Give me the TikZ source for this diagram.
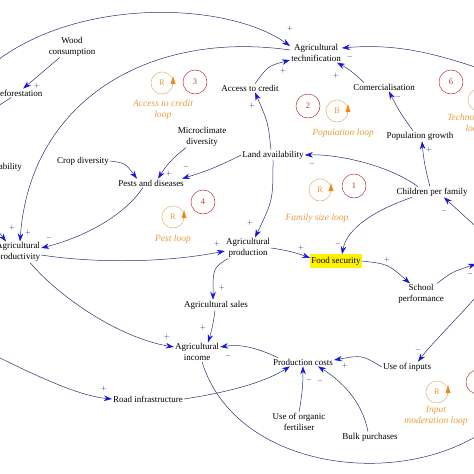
\documentclass[tikz,border=0pt]{standalone}
\usepackage{fontspec}
\setmainfont{Liberation Serif}
\usetikzlibrary{arrows.meta}
\definecolor{linkcol}{RGB}{45,45,115}
\definecolor{arrowblue}{RGB}{20,20,225}
\definecolor{loopor}{RGB}{232,158,62}
\definecolor{loopring}{RGB}{222,178,112}
\definecolor{looptip}{RGB}{240,135,25}
\definecolor{loopred}{RGB}{185,55,55}

\begin{document}
\begin{tikzpicture}[x=1pt, y=-1pt, >={Stealth[length=8pt,width=5.5pt,color=arrowblue]},
    var/.style={font=\fontsize{9}{10.5}\selectfont, inner sep=1pt, align=center},
    link/.style={draw=linkcol, line width=0.5pt, ->},
    plain/.style={draw=linkcol, line width=0.5pt},
    sign/.style={font=\fontsize{7.5}{8}\selectfont, text=linkcol, inner sep=0pt},
    looplbl/.style={font=\fontsize{9.5}{11}\selectfont\itshape, text=loopor, align=center, inner sep=0pt},
    ringor/.style={draw=loopring, line width=0.5pt},
    ringred/.style={draw=loopred, line width=0.5pt}]
    \useasboundingbox (0,0) rectangle (474,474);
    \clip (0,0) rectangle (474,474);

    % Variables
    \node[var] (wood) at (72,47) {Wood\\consumption};
    \node[var] (defor) at (18,93) {Deforestation};
    \node[var, anchor=east] (abil) at (23,167) {ability};
    \node[var] (prodty) at (18,252) {Agricultural\\productivity};
    \node[var] (techn) at (316,53) {Agricultural\\technification};
    \node[var] (credit) at (250,88) {Access to credit};
    \node[var] (comer) at (384,87) {Comercialisation};
    \node[var] (popg) at (420,136) {Population growth};
    \node[var] (micro) at (202,137) {Microclimate\\diversity};
    \node[var] (crop) at (83,161) {Crop diversity};
    \node[var] (pests) at (151,183) {Pests and diseases};
    \node[var] (land) at (273,155) {Land availability};
    \node[var] (child) at (432,192) {Children per family};
    \node[var] (prodn) at (248,248) {Agricultural\\production};
    \node[var, fill=yellow, inner ysep=2.5pt] (food) at (336,261) {Food security};
    \node[var] (school) at (421,294) {School\\performance};
    \node[var] (sales) at (216,305) {Agricultural sales};
    \node[var] (income) at (197,352) {Agricultural\\income};
    \node[var] (costs) at (303,362) {Production costs};
    \node[var] (inputs) at (407,367) {Use of inputs};
    \node[var] (road) at (148,399) {Road infrastructure};
    \node[var] (organic) at (299,422) {Use of organic\\fertiliser};
    \node[var] (bulk) at (370,437) {Bulk purchases};

    % Ends outside the frame
    \coordinate (wleft) at (-12,68);
    \coordinate (dleft) at (-8,110);
    \coordinate (pleft) at (-10,220);
    \coordinate (tright) at (490,72);
    \coordinate (schoolout) at (476,264);
    \coordinate (cright) at (482,232);
    \coordinate (uright) at (482,290);
    \coordinate (iright) at (486,430);
    \coordinate (rleft) at (-10,353);

    % Connectors
    \draw[link] (wleft) .. controls (70,-3) and (225,0) .. ([yshift=7pt]techn.west);
    \draw[link] ([yshift=3pt]techn.west) .. controls (150,30) and (30,100) .. ([xshift=2pt]prodty.north);
    \draw[link] (wood) -- (defor);
    \draw[plain] (defor) -- (dleft);
    \draw[link] (pleft) -- ([xshift=-12pt]prodty.north);
    \draw[link] (crop.east) .. controls (125,163) .. ([xshift=-14pt]pests.north);
    \draw[link] (micro) to[bend right=10] ([xshift=7pt]pests.north);
    \draw[link] (land.west) to[bend left=5] ([xshift=31pt]pests.north);
    \draw[link] ([xshift=-8pt]pests.south) .. controls (125,215) and (85,237) .. ([yshift=4pt]prodty.east);
    \draw[link] ([yshift=-3pt]prodty.east) .. controls (100,264) and (170,262) .. ([yshift=-3pt]prodn.west);
    \draw[link] ([xshift=12pt]prodty.south) .. controls (60,298) and (120,338) .. ([yshift=5pt]income.west);
    \draw[link] (land.south) .. controls (273,200) .. ([xshift=7pt]prodn.north);
    \draw[link] ([xshift=-2pt]land.north) .. controls (268,122) .. ([xshift=5pt]credit.south);
    \draw[link] ([xshift=5pt]credit.north) .. controls (268,66) .. ([yshift=-7pt]techn.west);
    \draw[link] ([xshift=-20pt]comer.north) to[bend right=8] ([xshift=21pt]techn.south);
    \draw[link] (tright) .. controls (440,55) and (400,43) .. ([yshift=5pt]techn.east);
    \draw[link] ([xshift=-7pt]popg.north) to[bend left=5] ([xshift=5pt]comer.south);
    \draw[link] ([xshift=-2pt]child.north) to[bend left=5] ([xshift=2pt]popg.south);
    \draw[link] ([xshift=-14pt]child.north) .. controls (390,166) and (340,154) .. (land.east);
    \draw[link] ([xshift=-20pt]child.south) .. controls (375,210) and (347,228) .. ([xshift=6pt]food.north);
    \draw[link] (prodn.east) to[bend left=6] ([yshift=3pt]food.west);
    \draw[link] (food.east) .. controls (388,264) .. ([xshift=-11pt]school.north);
    \draw[link] ([xshift=16pt]school.north) .. controls (452,272) .. (schoolout);
    \draw[link] (cright) .. controls (462,214) .. ([xshift=12pt]child.south);
    \draw[link] (uright) .. controls (458,318) and (432,343) .. ([xshift=11pt]inputs.north);
    \draw[link] (inputs.west) .. controls (362,355) .. ([yshift=2pt]costs.east);
    \draw[link] (organic.north) to[bend right=5] (costs.south);
    \draw[link] ([xshift=-2pt]bulk.north) .. controls (362,400) and (340,380) .. ([xshift=15pt]costs.south);
    \draw[link] (road.east) .. controls (230,392) and (265,382) .. ([xshift=-13pt]costs.south);
    \draw[link] ([xshift=-25pt]costs.north) .. controls (255,347) and (240,344) .. ([yshift=5pt]income.east);
    \draw[link] ([xshift=-1pt]sales.south) to[bend left=5] ([xshift=11pt]income.north);
    \draw[link] ([xshift=-20pt]prodn.south) .. controls (213,268) .. ([xshift=-3pt]sales.north);
    \draw[plain] ([xshift=5pt]income.south) .. controls (235,470) and (400,490) .. (iright);
    \draw[link] (rleft) .. controls (40,378) and (80,396) .. (road.west);

    % Polarities
    \foreach \n/\x/\y/\s in {1/37/86/+, 2/12/228/+, 3/28/233/+, 4/290/29/+, 5/169/174/+,
        6/186/167/-, 7/49/238/-, 8/217/244/+, 9/167/337/+, 10/250/223/+, 11/252/106/+,
        12/283/71/+, 13/336/76/+, 14/350/57/-, 15/398/97/-, 16/429/150/+, 17/312/164/-,
        18/338/244/-, 19/301/248/+, 20/387/260/+, 21/470/274/-, 22/444/211/-, 23/418/350/-,
        24/345/366/+, 25/309/380/-, 26/320/381/-, 27/228/356/-, 28/203/328/+, 29/222/288/+,
        30/104/389/+}
        \node[sign] (s\n) at (\x,\y) {$\s$};

    % Loop markers
    \foreach \n/\x/\y/\l in {r3/162/83/R, b2/337/111/B, r1/320/190/R, r4/173/217/R,
        r5/437/392/R, b6/479/100/B} {
        \draw[ringor] ({\x+11},\y) arc[start angle=0, end angle=330, radius=11];
        \fill[looptip] ({\x+8.5},{\y+1}) -- ({\x+13.5},{\y+1}) -- ({\x+11},{\y-7}) -- cycle;
        \node[text=loopor, font=\fontsize{8.5}{9}\selectfont] (\n) at (\x,\y) {\l};
    }
    \foreach \n/\x/\y/\l in {c3/195/82/3, c2/308/106/2, c1/354/186/1, c4/203/202/4,
        c6/451/82/6, c5/478/382/{}} {
        \draw[ringred] (\x,\y) circle[radius=12];
        \node[text=loopred, font=\fontsize{8.5}{9}\selectfont] (\n) at (\x,\y) {\l};
    }
    \node[looplbl] (lcredit) at (163,110) {Access to credit\\loop};
    \node[looplbl] (lpop) at (343,133) {Population loop};
    \node[looplbl] (lfam) at (317,218) {Family size loop};
    \node[looplbl] (lpest) at (173,239) {Pest loop};
    \node[looplbl] (linput) at (436,416) {Input\\moderation loop};
    \node[looplbl] (ltech) at (474,124) {Technological\\loop};
\end{tikzpicture}
\end{document}
